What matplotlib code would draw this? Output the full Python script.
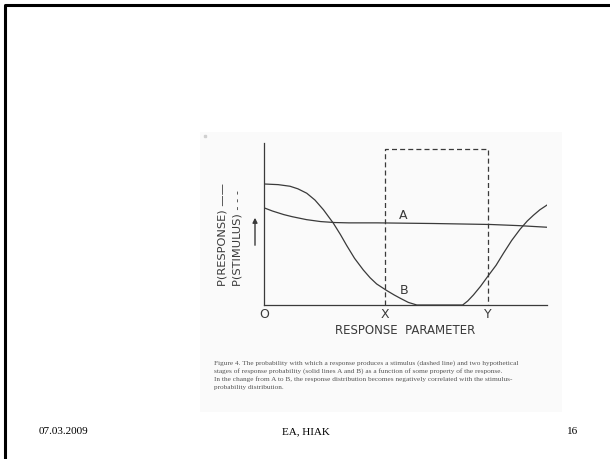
import matplotlib
matplotlib.use('Agg')
import matplotlib.pyplot as plt
from matplotlib.patches import Rectangle

# curve A: response probability, stage A
A_X = [0.0, 0.3, 0.7, 1.0, 1.5, 2.0, 2.5, 3.0, 4.0, 5.0, 6.0, 7.0, 8.0, 9.0, 10.0]
A_Y = [0.600, 0.580, 0.558, 0.545, 0.527, 0.515, 0.509, 0.507, 0.507, 0.505, 0.503, 0.500, 0.497, 0.490, 0.480]
# curve B: response probability, stage B
B_X = [0.0, 0.5, 0.92, 1.2, 1.51, 1.8, 2.10, 2.45, 2.7, 2.92, 3.2, 3.51, 3.75, 3.98, 4.33, 4.6, 4.81, 5.10, 5.40,
       7.02, 7.20, 7.40, 7.65, 7.90, 8.20, 8.46, 8.75, 9.05, 9.30, 9.52, 9.75, 10.0]
B_Y = [0.747, 0.743, 0.733, 0.717, 0.690, 0.648, 0.588, 0.505, 0.435, 0.368, 0.288, 0.216, 0.168, 0.130, 0.090, 0.062, 0.042, 0.016, 0.0,
       0.0, 0.025, 0.062, 0.115, 0.175, 0.245, 0.319, 0.398, 0.468, 0.518, 0.554, 0.588, 0.617]
# stimulus probability (dashed box) between X and Y
STIM_X = [4.28, 4.28, 7.92, 7.92]
STIM_Y = [0.0, 0.963, 0.963, 0.0]
TICK_POS = [0.0, 4.28, 7.92]
TICK_LAB = ['O', 'X', 'Y']
CAPTION = ['Figure 4. The probability with which a response produces a stimulus (dashed line) and two hypothetical',
           'stages of response probability (solid lines A and B) as a function of some property of the response.',
           'In the change from A to B, the response distribution becomes negatively correlated with the stimulus-',
           'probability distribution.']
FOOTER = ['07.03.2009', 'EA, HIAK', '16']

W, H = 610, 459
INK = '#3a3a3a'

def fx(px): return px / W
def fy(py): return 1 - py / H

fig = plt.figure(figsize=(6.1, 4.59), dpi=100)
bg = fig.add_axes([0, 0, 1, 1]); bg.set_xlim(0, W); bg.set_ylim(H, 0); bg.axis('off')
# slide border and faint scan background
bg.plot([4.5, 4.5, W], [H, 4.5, 4.5], color='black', lw=2.2, solid_capstyle='butt')
bg.add_patch(Rectangle((200, 132), 362, 280, color='#fafafa', lw=0, zorder=0))
bg.plot([205], [136], 's', ms=2, color='#d0d0d0')

ax = fig.add_axes([fx(264), fy(305), (547 - 264) / W, (305 - 143) / H])
ax.patch.set_alpha(0)
ax.set_xlim(0, 10); ax.set_ylim(0, 1)
for s in ['top', 'right']: ax.spines[s].set_visible(False)
for s in ['left', 'bottom']: ax.spines[s].set_color(INK); ax.spines[s].set_linewidth(0.9)
ax.plot(A_X, A_Y, color=INK, lw=0.9)
ax.plot(B_X, B_Y, color=INK, lw=0.9)
ax.plot(STIM_X, STIM_Y, color=INK, lw=0.9, ls=(0, (4, 2.5)))
ax.set_xticks(TICK_POS, TICK_LAB, fontsize=9, color=INK)
ax.tick_params(axis='x', length=0, pad=2)
ax.set_yticks([])
ax.text(4.9, 0.555, 'A', fontsize=9, color=INK, ha='center', va='center')
ax.text(4.95, 0.09, 'B', fontsize=9, color=INK, ha='center', va='center')
ax.set_xlabel('RESPONSE  PARAMETER', fontsize=8.5, color=INK, labelpad=2)

fig.text(fx(222), fy(286), 'P(RESPONSE) \u2014\u2014', rotation=90, rotation_mode='anchor',
         ha='left', va='center', fontsize=8.2, color=INK)
fig.text(fx(238), fy(286), 'P(STIMULUS) - - -', rotation=90, rotation_mode='anchor',
         ha='left', va='center', fontsize=8.2, color=INK)
bg.annotate('', xy=(255, 215), xytext=(255, 248),
            arrowprops=dict(arrowstyle='-|>', color=INK, lw=1.0, mutation_scale=7))

for i, line in enumerate(CAPTION):
    bg.text(214, 363 + 8 * i, line, fontsize=5.2, color='#555555', family='Liberation Serif',
            ha='left', va='center')

bg.text(39, 432, FOOTER[0], fontsize=8, family='Liberation Serif', ha='left', va='center')
bg.text(306, 432, FOOTER[1], fontsize=8, family='Liberation Serif', ha='center', va='center')
bg.text(578, 432, FOOTER[2], fontsize=8, family='Liberation Serif', ha='right', va='center')

fig.savefig('out.png', dpi=100)
